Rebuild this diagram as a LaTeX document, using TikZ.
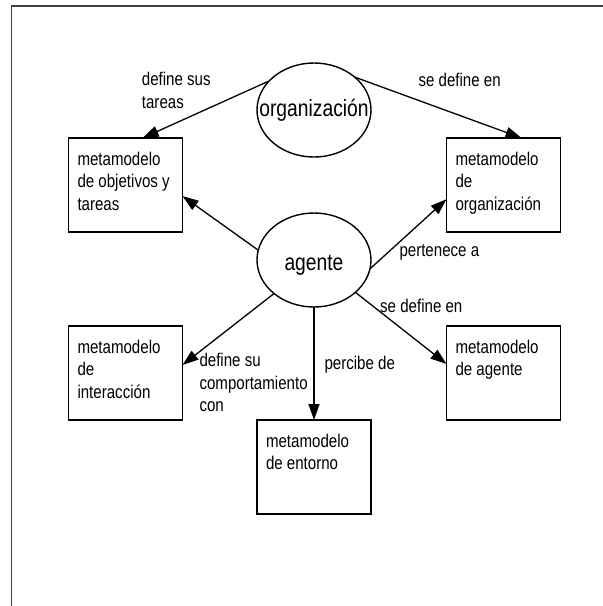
\documentclass[tikz,border=0pt]{standalone}
\usepackage{fontspec}
\setmainfont{Liberation Sans}[FakeStretch=0.82]
\usetikzlibrary{arrows.meta,shapes.geometric}

% text of a metamodel box: top-aligned, left-aligned lines
\newcommand\mmtext[1]{\parbox[c][66pt][t]{96pt}{\raggedright #1}}

\begin{document}
\begin{tikzpicture}[x=1pt,y=-1pt,
  every node/.style={font=\fontsize{18.4pt}{22.4pt}\selectfont},
  mmbox/.style={draw, rectangle, line width=1.4pt, minimum width=114pt,
    minimum height=94pt, inner xsep=9pt, inner ysep=14pt, outer sep=0pt},
  oval/.style={draw, ellipse, line width=1.4pt, minimum width=114pt,
    minimum height=94pt, inner sep=0pt, outer sep=0pt,
    font=\fontsize{23.5pt}{28pt}\selectfont},
  conn/.style={line width=1.3pt, -{Triangle[length=16pt,width=11pt]}},
  lab/.style={anchor=base west, inner sep=0pt, align=left}]

\useasboundingbox (0,0) rectangle (603,606);

% page frame
\draw[line width=1.5pt, black!75] (11.5,606) -- (11.5,6) -- (603,6);

% concepts
\node[oval, text height=17pt, text depth=5pt] (org) at (314,110) {\makebox[0pt]{organización}};
\node[oval, text height=26pt, text depth=4.6pt] (ag) at (314,260) {\makebox[0pt]{agente}};

% metamodels
\node[mmbox] (obj)   at (125.5,185) {\mmtext{metamodelo\\de objetivos y\\tareas}};
\node[mmbox] (orgb)  at (503.5,185) {\mmtext{metamodelo\\de\\organización}};
\node[mmbox] (inter) at (125.5,373) {\mmtext{metamodelo\\de\\interacción}};
\node[mmbox] (agb)   at (503.5,373) {\mmtext{metamodelo\\de agente}};
\node[mmbox] (env)   at (314,467)   {\mmtext{metamodelo\\de entorno}};

% relations
\draw[conn] (org.147)  -- (obj.70.7);
\draw[conn] (org.39.5) -- (orgb.69.6);
\draw[conn] (ag.170)   -- (obj.-11.5);
\draw[conn] (ag.-9)    -- (orgb.194);
\draw[conn] (ag.220)   -- (inter.8.9);
\draw[conn] (ag.south) -- (env.north);
\draw[conn] (ag.-38)   -- (agb.171);

% relation labels (base anchor sits on the last line)
\node[lab] (l1) at (141.7,108.3) {define sus\\tareas};
\node[lab] (l2) at (418.3,86)    {se define en};
\node[lab] (l3) at (399.3,256)   {pertenece a};
\node[lab] (l4) at (380,312.7)   {se define en};
\node[lab] (l5) at (324.3,369.3) {percibe de};
\node[lab] (l6) at (199.3,411.7) {define su\\comportamiento\\con};

\end{tikzpicture}
\end{document}
